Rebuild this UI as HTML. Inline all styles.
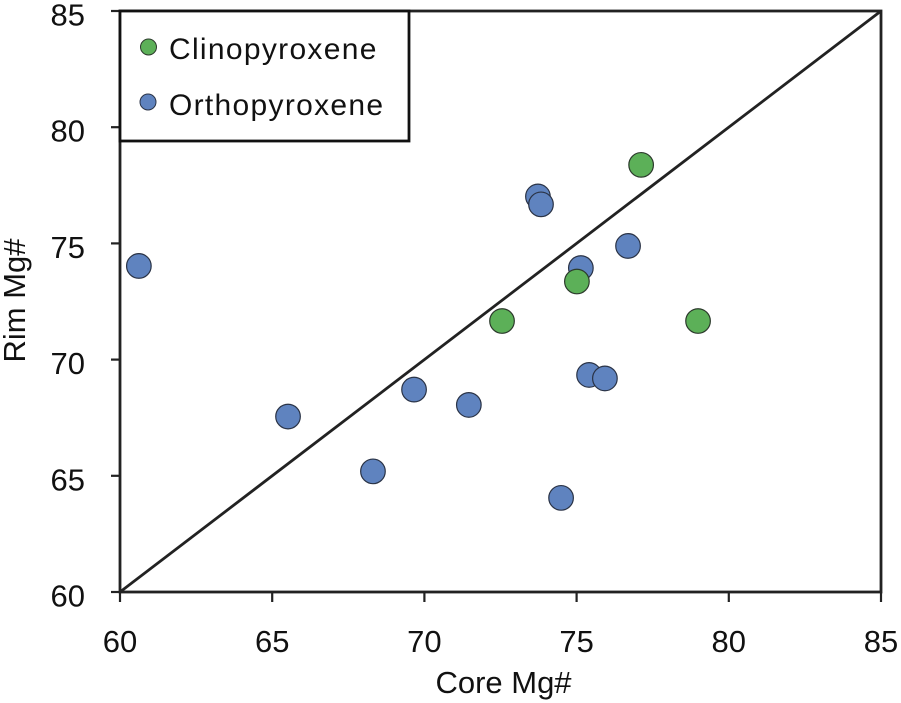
<!DOCTYPE html>
<html>
<head>
<meta charset="utf-8">
<style>
html,body{margin:0;padding:0;background:#fff;}
svg{display:block;}
text{font-family:"Liberation Sans",sans-serif;fill:#111;}
</style>
</head>
<body>
<svg id="chart" xmlns="http://www.w3.org/2000/svg" width="901" height="703" viewBox="0 0 901 703">
  <g id="gridlayer"></g>
  <g id="marks"></g>
  <g>
    <rect x="120" y="11" width="289" height="130" fill="#fff" stroke="#111" stroke-width="2.8"></rect>
    <circle cx="148.500" cy="47" r="8" fill="#5cb058" stroke="#2c3a2c" stroke-width="1"></circle>
    <text x="169" y="59" font-size="30" letter-spacing="1.3">Clinopyroxene</text>
    <circle cx="148" cy="102" r="8" fill="#5f83bf" stroke="#2a3346" stroke-width="1"></circle>
    <text x="169" y="115" font-size="30" letter-spacing="1.3">Orthopyroxene</text>
  </g>
  <text x="503.500" y="693" font-size="31" text-anchor="middle">Core Mg#</text>
  <text transform="translate(25,300.500) rotate(-90)" font-size="31" text-anchor="middle">Rim Mg#</text>
</svg>
<script>
var xTicks = [60, 65, 70, 75, 80, 85];
var yTicks = [60, 65, 70, 75, 80, 85];
var orthoCore = [60.62, 65.52, 68.31, 69.66, 71.46, 73.73, 73.83, 75.14, 75.41, 75.93, 74.49, 76.69];
var orthoRim = [74.03, 67.55, 65.19, 68.71, 68.05, 77.02, 76.68, 73.94, 69.34, 69.19, 64.05, 74.89];
var clinoCore = [72.55, 75.01, 77.12, 78.99];
var clinoRim = [71.66, 73.36, 78.38, 71.66];
var oneToOne = [60, 85];

var SVGNS = 'http://www.w3.org/2000/svg';
function xScale(v) { return 120 + (v - 60) / 25 * 761; }
function yScale(v) { return 592 - (v - 60) / 25 * 581; }
function make(tag, attrs, parent) {
  var el = document.createElementNS(SVGNS, tag);
  for (var k in attrs) { el.setAttribute(k, attrs[k]); }
  parent.appendChild(el);
  return el;
}
var frame = document.getElementById('gridlayer');
var marks = document.getElementById('marks');

var border = make('rect', {x: 120, y: 11, width: 761, height: 581, fill: 'none', stroke: '#222', 'stroke-width': 2.8}, frame);



var refLine = make('line', {x1: xScale(oneToOne[0]), y1: yScale(oneToOne[0]), x2: xScale(oneToOne[1]), y2: yScale(oneToOne[1]), stroke: '#222', 'stroke-width': 2.8}, frame);



xTicks.forEach(function (t) {
  var tick = make('line', {x1: xScale(t), y1: 592, x2: xScale(t), y2: 602, stroke: '#222', 'stroke-width': 2.2}, frame);
  
  
  var label = make('text', {x: xScale(t), y: 652, 'font-size': 31, 'text-anchor': 'middle'}, frame);
  
  
  label.textContent = t;
});
yTicks.forEach(function (t) {
  var tick = make('line', {x1: 111, y1: yScale(t), x2: 120, y2: yScale(t), stroke: '#222', 'stroke-width': 2.2}, frame);
  
  
  var label = make('text', {x: 85, y: yScale(t) + 14.5, 'font-size': 31, 'text-anchor': 'end'}, frame);
  
  
  label.textContent = t;
});
orthoCore.forEach(function (v, i) {
  var dot = make('circle', {cx: xScale(v), cy: yScale(orthoRim[i]), r: 12.3, fill: '#5f83bf', stroke: '#2a3346', 'stroke-width': 1.2}, marks);
  
  
});
clinoCore.forEach(function (v, i) {
  var dot = make('circle', {cx: xScale(v), cy: yScale(clinoRim[i]), r: 12.3, fill: '#5cb058', stroke: '#2c3a2c', 'stroke-width': 1.2}, marks);
  
  
});
</script>
</body>
</html>
